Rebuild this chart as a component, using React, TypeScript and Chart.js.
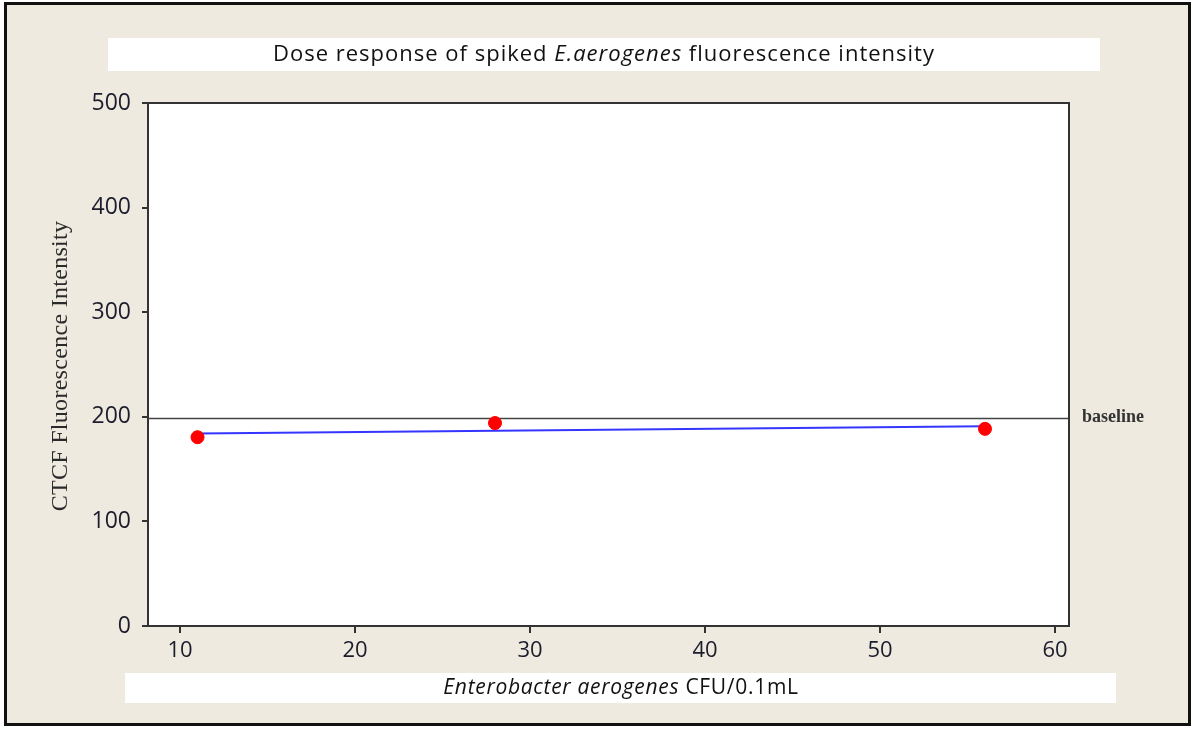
import React, { useEffect, useRef } from "react";
import { Chart, registerables } from "chart.js";

Chart.register(...registerables);

const doseX = [11, 28, 56];
const intensityY = [180.5, 194, 188.5];
const trendX = [11, 56];
const trendY = [184, 191];
const baselineValue = 199;
const xMin = 8.17;
const xMax = 60.8;
const yMin = 0;
const yMax = 500;

const BG = "#EEEAE0";
const TEXT = "#1c1c2c";

const decorPlugin = {
  id: "decor",
  beforeDraw(chart: any) {
    const ctx = chart.ctx;
    const W = chart.width;
    const H = chart.height;
    const ca = chart.chartArea;
    ctx.save();
    ctx.fillStyle = "#ffffff";
    ctx.fillRect(0, 0, W, H);
    ctx.fillStyle = BG;
    ctx.fillRect(5, 3, 1185, 722);
    ctx.strokeStyle = "#111";
    ctx.lineWidth = 3;
    ctx.strokeRect(5.5, 3.5, 1184, 721);
    // title box
    ctx.fillStyle = "#ffffff";
    ctx.fillRect(108, 38, 992, 33);
    // x label box
    ctx.fillRect(125, 673, 991, 30);
    // plot area
    ctx.fillRect(ca.left, ca.top, ca.right - ca.left, ca.bottom - ca.top);

    const drawMixed = (parts: [string, boolean][], cx: number, cy: number, size: number, spacing: number) => {
      const fam = "'Open Sans', sans-serif";
      (ctx as any).letterSpacing = `${spacing}px`;
      let total = 0;
      const widths: number[] = [];
      parts.forEach(([t, it]) => {
        ctx.font = `${it ? "italic " : ""}${size}px ${fam}`;
        const w = ctx.measureText(t).width;
        widths.push(w);
        total += w;
      });
      let x = cx - total / 2;
      ctx.fillStyle = "#111";
      ctx.textBaseline = "middle";
      ctx.textAlign = "left";
      parts.forEach(([t, it], i) => {
        ctx.font = `${it ? "italic " : ""}${size}px ${fam}`;
        ctx.fillText(t, x, cy);
        x += widths[i];
      });
      (ctx as any).letterSpacing = "0px";
    };
    drawMixed(
      [
        ["Dose response of spiked ", false],
        ["E.aerogenes", true],
        [" fluorescence intensity", false],
      ],
      604,
      55,
      22,
      1
    );
    drawMixed(
      [
        ["Enterobacter aerogenes", true],
        [" CFU/0.1mL", false],
      ],
      621,
      688,
      21,
      0.7
    );

    // y axis title
    ctx.save();
    ctx.translate(61, 366);
    ctx.rotate(-Math.PI / 2);
    ctx.font = "24px 'Liberation Serif', serif";
    (ctx as any).letterSpacing = "0.3px";
    ctx.fillStyle = "#2a2a2a";
    ctx.textAlign = "center";
    ctx.textBaseline = "middle";
    ctx.fillText("CTCF Fluorescence Intensity", 0, 0);
    (ctx as any).letterSpacing = "0px";
    ctx.restore();
    ctx.restore();
  },
  beforeDatasetsDraw(chart: any) {
    const ctx = chart.ctx;
    const ca = chart.chartArea;
    const y = Math.round(chart.scales.y.getPixelForValue(baselineValue)) + 0.5;
    ctx.save();
    ctx.strokeStyle = "#444";
    ctx.lineWidth = 1.5;
    ctx.beginPath();
    ctx.moveTo(ca.left, y);
    ctx.lineTo(ca.right, y);
    ctx.stroke();
    ctx.font = "bold 18px 'Liberation Serif', serif";
    ctx.fillStyle = "#333";
    ctx.textAlign = "left";
    ctx.textBaseline = "middle";
    ctx.fillText("baseline", 1082, y - 1);
    ctx.restore();
  },
  afterDraw(chart: any) {
    const ctx = chart.ctx;
    const ca = chart.chartArea;
    ctx.save();
    ctx.strokeStyle = "#333";
    ctx.lineWidth = 2;
    ctx.strokeRect(ca.left, ca.top, ca.right - ca.left, ca.bottom - ca.top);
    ctx.restore();
  },
};

export default function App() {
  const ref = useRef<HTMLCanvasElement | null>(null);
  useEffect(() => {
    document.body.style.margin = "0";
    const canvas = ref.current!;
    const chart = new Chart(canvas, {
      type: "scatter",
      data: {
        datasets: [
          {
            data: trendX.map((x, i) => ({ x, y: trendY[i] })),
            showLine: true,
            borderColor: "#3535FF",
            borderWidth: 2,
            pointRadius: 0,
            order: 2,
          },
          {
            data: doseX.map((x, i) => ({ x, y: intensityY[i] })),
            backgroundColor: "#FF0000",
            borderColor: "#FF0000",
            pointRadius: 6.5,
            order: 1,
          },
        ],
      },
      options: {
        responsive: false,
        animation: false,
        layout: { padding: { left: 0, top: 103, right: 124, bottom: 0 } },
        plugins: { legend: { display: false }, tooltip: { enabled: false }, title: { display: false } },
        scales: {
          x: {
            type: "linear",
            min: xMin,
            max: xMax,
            afterFit: (s: any) => {
              s.height = 103;
            },
            ticks: {
              stepSize: 10,
              includeBounds: false,
              color: TEXT,
              padding: 5,
              font: { family: "'Open Sans', sans-serif", size: 22 },
            },
            grid: { drawOnChartArea: false, drawTicks: true, tickLength: 7, color: "#333", lineWidth: 2 },
            border: { display: false },
          },
          y: {
            min: yMin,
            max: yMax,
            afterFit: (s: any) => {
              s.width = 148;
            },
            ticks: {
              stepSize: 100,
              color: TEXT,
              padding: 11,
              font: { family: "'Open Sans', sans-serif", size: 23 },
            },
            grid: { drawOnChartArea: false, drawTicks: true, tickLength: 6, color: "#333", lineWidth: 2 },
            border: { display: false },
          },
        },
      },
      plugins: [decorPlugin],
    } as any);
    return () => chart.destroy();
  }, []);
  return <canvas ref={ref} width={1193} height={729} style={{ display: "block" }} />;
}
